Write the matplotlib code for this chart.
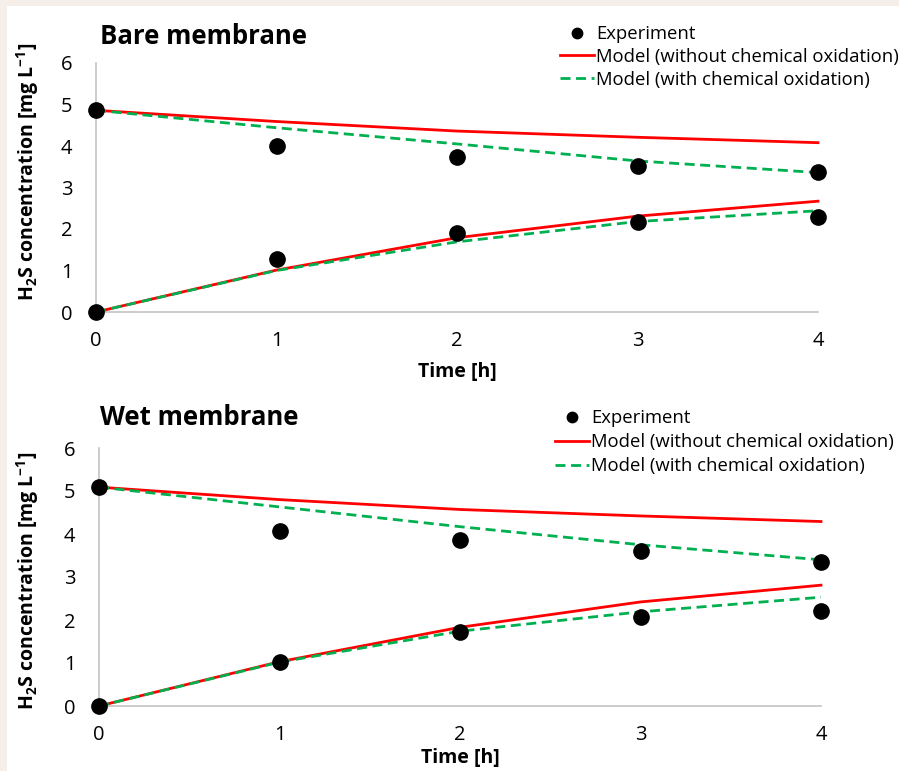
import matplotlib
matplotlib.use("Agg")
import matplotlib.pyplot as plt
from matplotlib.patches import Rectangle

plt.rcParams['font.family'] = ['Open Sans', 'DejaVu Sans']
plt.rcParams['mathtext.fontset'] = 'custom'
plt.rcParams['mathtext.rm'] = 'Open Sans'
plt.rcParams['mathtext.bf'] = 'Open Sans:bold'

time_h = [0, 1, 2, 3, 4]
x_ticks = [0, 1, 2, 3, 4]
y_ticks = [0, 1, 2, 3, 4, 5, 6]

panel_titles = ["Bare membrane", "Wet membrane"]

# Bare membrane
bare_exp_dec = [4.86, 4.01, 3.74, 3.53, 3.37]
bare_exp_inc = [0.0, 1.27, 1.90, 2.18, 2.30]
bare_red_dec = [4.86, 4.59, 4.36, 4.21, 4.08]
bare_red_inc = [0.0, 1.01, 1.79, 2.31, 2.67]
bare_grn_dec = [4.86, 4.44, 4.05, 3.64, 3.36]
bare_grn_inc = [0.0, 1.00, 1.69, 2.18, 2.44]

# Wet membrane
wet_exp_dec = [5.09, 4.08, 3.86, 3.61, 3.35]
wet_exp_inc = [0.0, 1.03, 1.73, 2.08, 2.21]
wet_red_dec = [5.09, 4.80, 4.57, 4.42, 4.29]
wet_red_inc = [0.0, 1.03, 1.83, 2.42, 2.81]
wet_grn_dec = [5.09, 4.63, 4.17, 3.75, 3.40]
wet_grn_inc = [0.0, 1.02, 1.74, 2.19, 2.53]

legend_labels = ["Experiment", "Model (without chemical oxidation)",
                 "Model (with chemical oxidation)"]

W, H = 899, 771
fig = plt.figure(figsize=(W / 100, H / 100), dpi=100)
fig.patch.set_facecolor('#f5eee9')
fig.patches.append(Rectangle((7 / W, 0), 1, 1 - 6 / H, transform=fig.transFigure,
                             facecolor='white', edgecolor='none', zorder=-10))

RED = '#ff0000'
GREEN = '#00b050'

panels = [
    dict(rect=(96, 63, 818, 312), title_xy=(100, 36), leg=(560, 25), lsp=0.26,
         exp=(bare_exp_dec, bare_exp_inc), red=(bare_red_dec, bare_red_inc),
         grn=(bare_grn_dec, bare_grn_inc), xlab_y=372, ylab=(28, 172)),
    dict(rect=(99, 448, 821, 706), title_xy=(100, 418), leg=(555, 409), lsp=0.33,
         exp=(wet_exp_dec, wet_exp_inc), red=(wet_red_dec, wet_red_inc),
         grn=(wet_grn_dec, wet_grn_inc), xlab_y=758, ylab=(28, 581)),
]

for i, p in enumerate(panels):
    l, t, r, b = p['rect']
    ax = fig.add_axes([l / W, 1 - b / H, (r - l) / W, (b - t) / H])
    ax.set_facecolor('none')
    ax.set_xlim(0, 4)
    ax.set_ylim(0, 6)
    for s in ['top', 'right']:
        ax.spines[s].set_visible(False)
    for s in ['left', 'bottom']:
        ax.spines[s].set_color('#c8c8c8')
        ax.spines[s].set_linewidth(1.3)
    ax.set_xticks(x_ticks)
    ax.set_yticks(y_ticks)
    ax.tick_params(length=0, labelsize=14.5, colors='black')
    ax.tick_params(axis='x', pad=14)
    ax.tick_params(axis='y', pad=17)

    for k in range(2):
        h_red, = ax.plot(time_h, p['red'][k], color=RED, lw=2.0, zorder=3,
                         clip_on=False)
        h_grn, = ax.plot(time_h, p['grn'][k], color=GREEN, lw=2.0,
                         dashes=(3.6, 2.0), zorder=4, clip_on=False)
        h_exp, = ax.plot(time_h, p['exp'][k], 'o', color='black', ms=11,
                         zorder=5, clip_on=False, linestyle='none')

    ax.set_xlabel("Time [h]", fontsize=14, fontweight='bold')
    ax.xaxis.set_label_coords(0.5, 1 - (p['xlab_y'] - t) / (b - t), transform=ax.transAxes)
    ax.xaxis.label.set_va('center')
    ax.set_ylabel(r"H$_\mathbf{2}$S concentration [mg L$^\mathbf{-1}$]", fontsize=14,
                  fontweight='bold')
    yx, yy = p['ylab']
    ax.yaxis.set_label_coords((yx - l) / (r - l), 1 - (yy - t) / (b - t),
                              transform=ax.transAxes)
    ax.yaxis.label.set_va('center')

    fig.text(p['title_xy'][0] / W, 1 - p['title_xy'][1] / H, panel_titles[i],
             fontsize=18.5, fontweight='bold', va='center', ha='left')

    lx, ly = p['leg']
    fig.legend([h_exp, h_red, h_grn], legend_labels, loc='upper left',
               bbox_to_anchor=(lx / W, 1 - ly / H), bbox_transform=fig.transFigure,
               frameon=False, fontsize=13.3, handlelength=1.85, handletextpad=0.12,
               labelspacing=p['lsp'], borderpad=0, borderaxespad=0, markerscale=0.68)

fig.savefig("out.png", dpi=100, facecolor=fig.get_facecolor())
